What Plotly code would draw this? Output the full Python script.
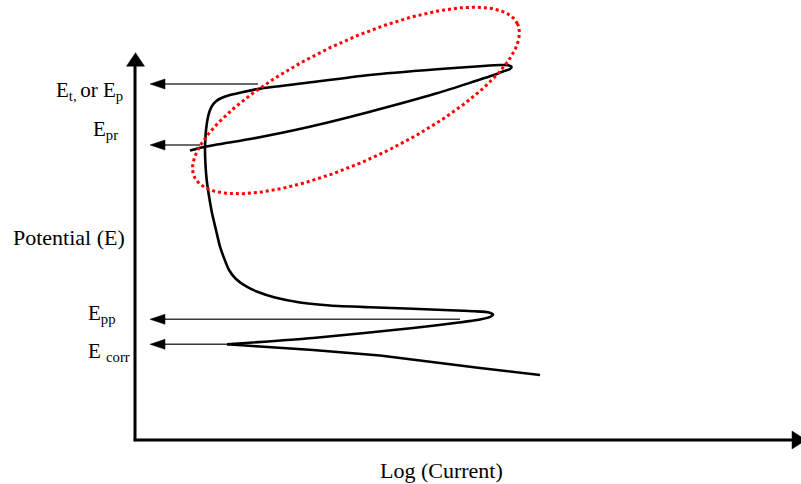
import numpy as np
import plotly.graph_objects as go

# Schematic cyclic polarization curve (arbitrary units)
# Cathodic branch, from the low end up to the corrosion potential
cathodic_log_i = [540, 480, 380, 313, 260, 227]
cathodic_E = [109, 116, 128.5, 134, 137.5, 139.7]

# Anodic sweep: active nose, passive region, breakdown, then the reverse scan
anodic_log_i = [227, 313, 413, 455, 480, 491, 493, 489, 475, 450, 413, 370,
                330, 300, 275, 258, 246.7, 236, 229, 224, 220, 216, 212, 209, 206.7,
                205.5, 205, 205.6, 206.5, 207.8, 209.5, 212, 216, 222, 230, 242, 260,
                303, 370, 437, 480, 500, 508, 511.5, 510, 504, 496.7, 436.7, 370,
                303, 253, 205, 190]
anodic_E = [139.7, 146, 156, 161, 164.5, 167.5, 169.5, 171.5, 172.7, 173.7,
            175.2, 176.7, 178.5, 181.5, 186.5, 192, 197.3, 205, 214, 226, 237.3, 254,
            271, 288, 304, 319, 334, 349, 358, 366, 372.5, 378, 382.8, 386.3, 389,
            391.8, 395.4, 400.7, 409, 414.7, 417.8, 419, 418.8, 417.2, 415, 413, 410,
            390.7, 372.3, 355.7, 345.5, 337.3, 333.5]

# Characteristic potentials and where each pointer leaves the curve
marker_labels = ["E<sub>t, </sub>or E<sub>p</sub>", "E<sub>pr</sub>", "E<sub>pp</sub>", "E <sub>corr</sub>"]
marker_E = [400, 339, 164.7, 139.7]
marker_from_log_i = [258, 200, 460, 227]

# Highlighted hysteresis loop (rotated ellipse)
loop_center = (356, 383.5)
loop_axes = (178.8, 58.8)
loop_tilt_deg = 25.4

FONT = "Liberation Serif, Times New Roman, Times, serif"
axis_x0, axis_y0 = 135, 44

fig = go.Figure()

fig.add_trace(go.Scatter(x=cathodic_log_i, y=cathodic_E, mode="lines",
                         line=dict(color="black", width=2.6), hoverinfo="skip"))
fig.add_trace(go.Scatter(x=anodic_log_i, y=anodic_E, mode="lines",
                         line=dict(color="black", width=2.6, shape="spline", smoothing=0.6),
                         hoverinfo="skip"))

t = np.linspace(0, 2 * np.pi, 400)
th = np.deg2rad(loop_tilt_deg)
a, b = loop_axes
ex = loop_center[0] + a * np.cos(th) * np.cos(t) - b * np.sin(th) * np.sin(t)
ey = loop_center[1] + a * np.sin(th) * np.cos(t) + b * np.cos(th) * np.sin(t)
fig.add_trace(go.Scatter(x=ex, y=ey, mode="lines",
                         line=dict(color="#ff0000", width=3, dash="dot"), hoverinfo="skip"))

shapes = []
# Axes with arrowheads
shapes.append(dict(type="line", xref="x", yref="y", x0=axis_x0, y0=axis_y0 - 1.3,
                   x1=axis_x0, y1=418, line=dict(color="black", width=3)))
shapes.append(dict(type="path", xref="x", yref="y", xsizemode="pixel", ysizemode="pixel",
                   xanchor=axis_x0 + 0.5, yanchor=431.3,
                   path="M0,0 L-9,-13.5 L9,-13.5 Z", fillcolor="black",
                   line=dict(color="black", width=0.5)))
shapes.append(dict(type="line", xref="x", yref="y", x0=axis_x0 - 1.3, y0=axis_y0,
                   x1=792, y1=axis_y0, line=dict(color="black", width=3)))
shapes.append(dict(type="path", xref="x", yref="y", xsizemode="pixel", ysizemode="pixel",
                   xanchor=806, yanchor=axis_y0,
                   path="M0,0 L-14,9 L-14,-9 Z", fillcolor="black",
                   line=dict(color="black", width=0.5)))

# Pointers from the curve to the potential axis
for E, x_from in zip(marker_E, marker_from_log_i):
    shapes.append(dict(type="line", xref="x", yref="y", x0=160, y0=E, x1=x_from, y1=E,
                       line=dict(color="#3a3a3a", width=1.4)))
    shapes.append(dict(type="path", xref="x", yref="y", xsizemode="pixel", ysizemode="pixel",
                       xanchor=150, yanchor=E, path="M0,0 L15,5 L15,-5 Z",
                       fillcolor="black", line=dict(color="black", width=0.5)))

annotations = []
label_left = [54, 91, 86, 86]
label_yshift = [-7, 15, 5, -8]
for text, E, x_left, dy in zip(marker_labels, marker_E, label_left, label_yshift):
    annotations.append(dict(x=x_left, y=E, xref="x", yref="y", text=text, showarrow=False,
                            xanchor="left", yanchor="middle", yshift=dy,
                            font=dict(family=FONT, size=21, color="black")))

annotations.append(dict(x=11, y=247, xref="x", yref="y", text="Potential (E)",
                        showarrow=False, xanchor="left", yanchor="middle",
                        font=dict(family=FONT, size=22, color="black")))
annotations.append(dict(x=441, y=14, xref="x", yref="y", text="Log (Current)",
                        showarrow=False, xanchor="center", yanchor="middle",
                        font=dict(family=FONT, size=22, color="black")))

fig.update_layout(
    width=801, height=484,
    margin=dict(l=0, r=0, t=0, b=0),
    paper_bgcolor="white", plot_bgcolor="white",
    showlegend=False,
    xaxis=dict(range=[0, 801], visible=False, fixedrange=True),
    yaxis=dict(range=[0, 484], visible=False, fixedrange=True),
    shapes=shapes,
    annotations=annotations,
)

fig.write_html("out.html")
